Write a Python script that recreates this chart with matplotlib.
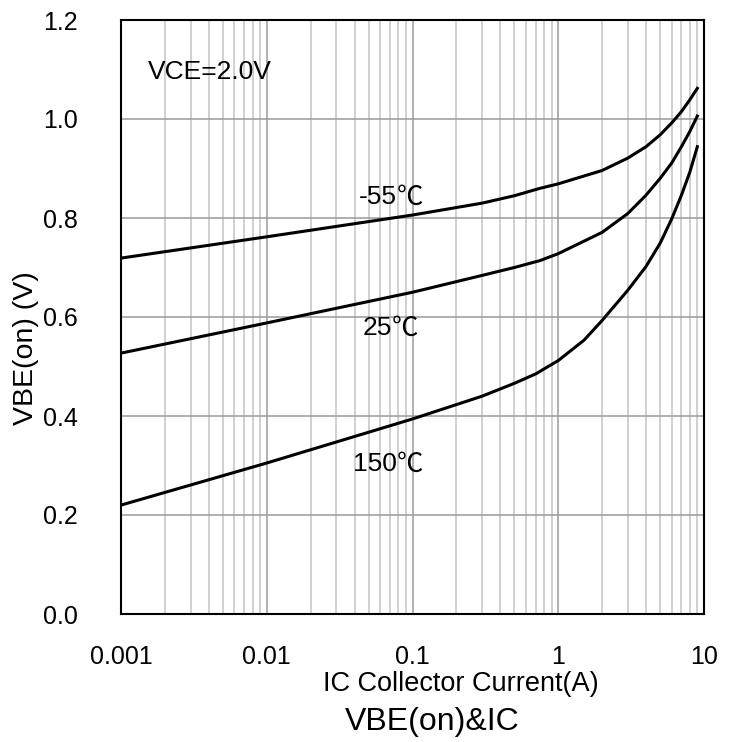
import numpy as np
import matplotlib
matplotlib.use("Agg")
import matplotlib.pyplot as plt
from matplotlib.ticker import LogLocator, FixedLocator, NullFormatter

plt.rcParams['font.family'] = ['Liberation Sans', 'Noto Sans CJK SC', 'DejaVu Sans']

# collector current (A)
ic = [0.001, 0.01, 0.1, 0.3, 0.5, 0.75, 1, 2, 3, 4, 5, 6, 7, 8, 9]

# VBE(on) (V) per temperature
vbe_m55 = [0.719, 0.762, 0.806, 0.830, 0.845, 0.860, 0.869, 0.896, 0.921, 0.944, 0.968, 0.992, 1.015, 1.039, 1.062]
vbe_25 = [0.527, 0.588, 0.650, 0.684, 0.700, 0.714, 0.728, 0.771, 0.809, 0.846, 0.880, 0.911, 0.944, 0.975, 1.006]
# 150C curve bends later, read at its own points
ic_150 = [0.001, 0.01, 0.1, 0.3, 0.5, 0.7, 1, 1.5, 2, 3, 4, 5, 6, 7, 8, 9]
vbe_150 = [0.220, 0.305, 0.394, 0.440, 0.466, 0.485, 0.512, 0.553, 0.593, 0.654, 0.702, 0.749, 0.798, 0.846, 0.893, 0.944]

curve_temps = ['-55', '25', '150']
label_x = [0.0783, 0.0723, 0.0783]   # right edge of the number
label_y = [0.842, 0.578, 0.303]

yticks = [0.0, 0.2, 0.4, 0.6, 0.8, 1.0, 1.2]
xticks = [0.001, 0.01, 0.1, 1, 10]
xticklabels = ['0.001', '0.01', '0.1', '1', '10']

fig = plt.figure(figsize=(7.38, 7.42), dpi=100)
ax = fig.add_axes([121/738, 1 - 614/742, (704-121)/738, (614-20)/742])

ax.set_xscale('log')
ax.set_xlim(0.001, 10)
ax.set_ylim(0, 1.2)

ax.xaxis.set_major_locator(FixedLocator(xticks))
ax.set_xticklabels(xticklabels)
ax.xaxis.set_minor_locator(LogLocator(base=10, subs=np.arange(2, 10)))
ax.xaxis.set_minor_formatter(NullFormatter())
ax.set_yticks(yticks)
ax.set_yticklabels([f"{v:.1f}" for v in yticks])

ax.grid(True, which='minor', axis='x', color='#c4c4c4', lw=1.1)
ax.grid(True, which='major', axis='both', color='#9a9a9a', lw=1.1)
ax.set_axisbelow(True)

ax.tick_params(which='both', length=0, labelsize=18)
ax.tick_params(axis='y', pad=31)
ax.tick_params(axis='x', pad=22)

for s in ax.spines.values():
    s.set_color('black')
    s.set_linewidth(1.5)

ax.plot(ic, vbe_m55, color='black', lw=2.2)
ax.plot(ic, vbe_25, color='black', lw=2.2)
ax.plot(ic_150, vbe_150, color='black', lw=2.2)

# number in Arial-like font, full-width degree sign from the CJK font
for t, x, y in zip(curve_temps, label_x, label_y):
    num = ax.text(x, y, t, fontsize=19, ha='right', va='center')
    ax.annotate('℃', xy=(1, 0.5), xycoords=num, fontsize=19, ha='left', va='center',
                family=['Noto Sans CJK SC'])

ax.text(0.00153, 1.094, 'VCE=2.0V', fontsize=19, ha='left', va='center')

fig.text(26/738, 1 - 348/742, 'VBE(on) (V)', fontsize=20.5, rotation=90, ha='center', va='center')
fig.text(323/738, 1 - 684/742, 'IC Collector Current(A)', fontsize=19.5, ha='left', va='center')
fig.text(345/738, 1 - 722/742, 'VBE(on)&IC', fontsize=23, ha='left', va='center')

fig.savefig('out.png', dpi=100)
